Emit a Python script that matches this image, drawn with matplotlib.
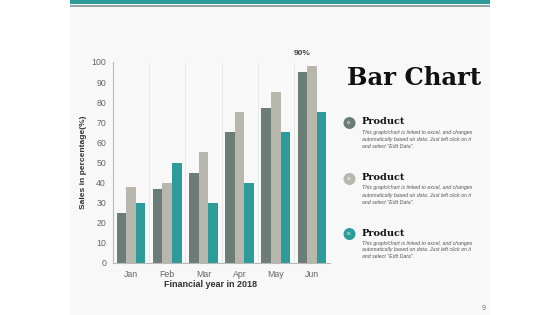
import matplotlib.pyplot as plt
import matplotlib.patches as mpatches
import numpy as np

# 데이터
months = ['Jan', 'Feb', 'Mar', 'Apr', 'May', 'Jun']
series_1 = [25, 37, 45, 65, 77, 95]
series_2 = [38, 40, 55, 75, 85, 98]
series_3 = [30, 50, 30, 40, 65, 75]
peak_label = '90%'

legend_titles = ['Product', 'Product', 'Product']
legend_numbers = ['01', '02', '03']
legend_text = ['This graph/chart is linked to excel, and changes',
               'automatically based on data. Just left click on it',
               'and select "Edit Data".']

dark = '#6b7d76'
light = '#b7b7ad'
teal = '#2e9b9b'
colors = [dark, light, teal]

W, H = 560, 315
plt.rcParams['font.family'] = ['Liberation Sans', 'DejaVu Sans']


def fx(x):
    return x / W


def fy(y):
    return 1 - y / H


fig = plt.figure(figsize=(5.6, 3.15), dpi=100)
fig.patch.set_facecolor('white')

# 슬라이드 배경 + 상단 띠
fig.add_artist(mpatches.Rectangle((fx(70), 0), fx(420), 1, transform=fig.transFigure,
                                  facecolor='#f8f8f8', edgecolor='none', zorder=0))
fig.add_artist(mpatches.Rectangle((fx(70), fy(4)), fx(420), 4 / H, transform=fig.transFigure,
                                  facecolor=teal, edgecolor='none', zorder=1))
fig.add_artist(mpatches.Rectangle((fx(70), fy(6.5)), fx(420), 1.2 / H, transform=fig.transFigure,
                                  facecolor='#9aa6a6', edgecolor='none', zorder=1))

# 막대 그래프
ax = fig.add_axes([fx(113), fy(263), fx(330) - fx(113), fy(62) - fy(263)])
ax.set_facecolor('none')
x = np.arange(len(months))
w = 0.265
for i, (vals, c) in enumerate(zip([series_1, series_2, series_3], colors)):
    ax.bar(x + (i - 1) * w, vals, width=w, color=c, zorder=2)

ax.set_xlim(-0.5, len(months) - 0.5)
ax.set_ylim(0, 100)
ax.set_yticks(range(0, 101, 10))
ax.set_xticks(x)
ax.set_xticklabels(months)
for b in np.arange(0.5, len(months) - 0.5, 1):
    ax.axvline(b, color='#e6e6e6', linewidth=0.6, zorder=1)

for s in ['top', 'right']:
    ax.spines[s].set_visible(False)
ax.spines['left'].set_color('#b8b8b8')
ax.spines['bottom'].set_color('#b8b8b8')
ax.tick_params(axis='both', length=0, labelsize=6.3, colors='#666666', pad=5)
ax.set_xlabel('Financial year in 2018', fontsize=6.5, fontweight='bold', color='#333333')
ax.xaxis.set_label_coords(0.45, -0.085)
ax.set_ylabel('Sales in percentage(%)', fontsize=6, fontweight='bold', color='#333333', labelpad=3)

ax.text(5 - w, 102.5, peak_label, ha='center', va='bottom', fontsize=6,
        fontweight='bold', color='#444444', clip_on=False)

# 제목
fig.text(fx(414), fy(78), 'Bar Chart', ha='center', va='center', fontsize=17.5,
         fontweight='bold', family='DejaVu Serif', color='#111111')

# 범례 설명
item_y = [123, 179, 234]
for yy, num, title, c in zip(item_y, legend_numbers, legend_titles, colors):
    fig.add_artist(mpatches.Ellipse((fx(349.5), fy(yy)), 12 / W, 12 / H,
                                    transform=fig.transFigure, facecolor=c,
                                    edgecolor='none', zorder=3))
    fig.text(fx(349.5), fy(yy), num, ha='center', va='center', fontsize=3,
             color='white', zorder=4)
    fig.text(fx(362), fy(yy - 1), title, ha='left', va='center', fontsize=7,
             fontweight='bold', family='DejaVu Serif', color='#111111')
    for k, line in enumerate(legend_text):
        fig.text(fx(362), fy(yy + 9 + k * 7), line, ha='left', va='center',
                 fontsize=3.8, style='italic', color='#555555')

fig.text(fx(484), fy(308), '9', ha='center', va='center', fontsize=5, color='#777777')

plt.savefig('out.png', dpi=100)
plt.close()
